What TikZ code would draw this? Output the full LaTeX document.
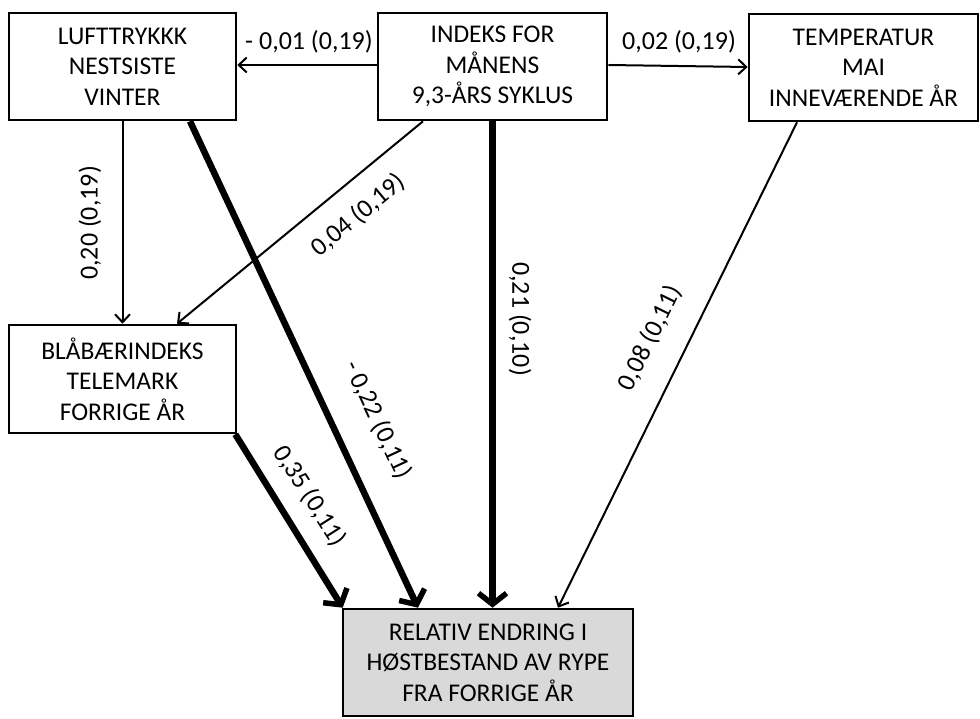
\documentclass[tikz,border=0pt]{standalone}
\usepackage{fontspec}
\setmainfont{Carlito}
\usetikzlibrary{arrows.meta}
\begin{document}
\begin{tikzpicture}[x=1pt,y=-1pt,
  box/.style={draw=black,line width=2.6pt,align=center,inner sep=0pt,
    font=\fontsize{25.5}{30.5}\selectfont},
  lbl/.style={inner sep=0pt,font=\fontsize{26}{28}\selectfont},
  thin/.style={line width=2pt,-{Straight Barb[length=8pt,width=15pt,line width=2pt]}},
  thick/.style={line width=6.5pt,-{Straight Barb[length=11pt,width=28pt,line width=5.5pt]}}]
\useasboundingbox (0,0) rectangle (980,719);
\node[box,minimum width=227pt,minimum height=107pt] (b1) at (122.5,66.5) {LUFTTRYKKK\\NESTSISTE\\VINTER};
\node[box,minimum width=229pt,minimum height=107pt] (b2) at (492.5,66.5) {INDEKS FOR\\MÅNENS\\9,3-ÅRS SYKLUS};
\node[box,minimum width=229pt,minimum height=107pt] (b3) at (863.5,67.5) {TEMPERATUR\\MAI\\INNEVÆRENDE ÅR};
\node[box,minimum width=227pt,minimum height=108pt] (b4) at (122.5,379) {BLÅBÆRINDEKS\\TELEMARK\\FORRIGE ÅR};
\node[box,fill={rgb,255:red,217;green,217;blue,217},minimum width=290pt,minimum height=107pt] (b5) at (488,662.5) {RELATIV ENDRING I\\HØSTBESTAND AV RYPE\\FRA FORRIGE ÅR};

\draw[thin] ([yshift=1.5pt]b2.west) -- ([yshift=1.5pt]b1.east);
\draw[thin] ([yshift=1.5pt]b2.east) -- ([yshift=0.5pt]b3.west);
\draw[thin] (b1.south) -- (b4.north);
\draw[thin] ([xshift=-69.5pt]b2.south) -- ([xshift=54.5pt]b4.north);
\draw[thin] ([xshift=-66.5pt]b3.south) -- ([xshift=70pt]b5.north);
\draw[thick] ([xshift=67.5pt]b1.south) -- ([xshift=-70pt]b5.north);
\draw[thick] ([xshift=-2pt]b4.south east) -- ([xshift=1pt]b5.north west);
\draw[thick] (b2.south) -- ([xshift=4.5pt]b5.north);

\node[lbl] (l1) at (309,42) {- 0,01 (0,19)};
\node[lbl] (l2) at (679,42) {0,02 (0,19)};
\node[lbl,rotate=90] (l3) at (90,223) {0,20 (0,19)};
\node[lbl,rotate=39.7] (l4) at (358,215) {0,04 (0,19)};
\node[lbl,rotate=-90] (l5) at (520,319) {0,21 (0,10)};
\node[lbl,rotate=63.8] (l6) at (650,338) {0,08 (0,11)};
\node[lbl,rotate=-65] (l7) at (378,420) {- 0,22 (0,11)};
\node[lbl,rotate=-57.5] (l8) at (310,496) {0,35 (0,11)};
\end{tikzpicture}
\end{document}
